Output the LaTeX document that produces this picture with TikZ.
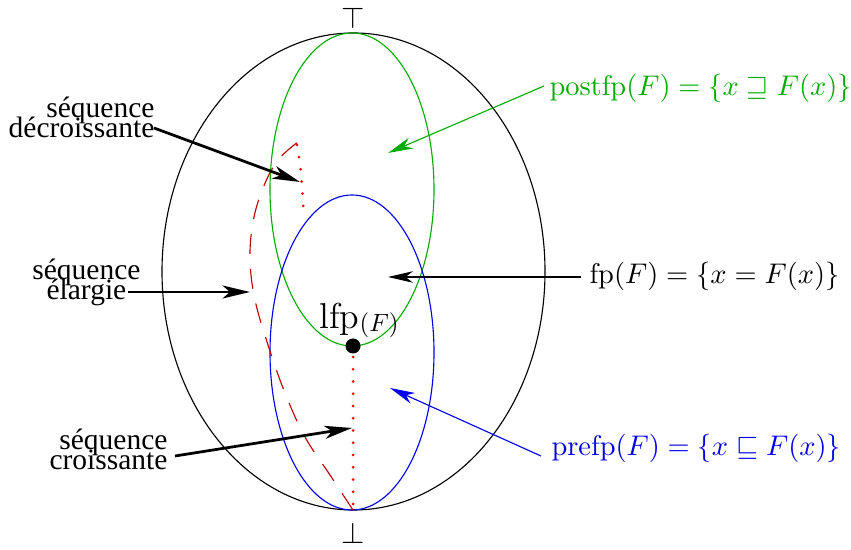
\documentclass[tikz,border=0pt]{standalone}
\usepackage{graphicx}
\usepackage{amssymb}
\usepackage{fontspec}
\newfontfamily\lab{Liberation Serif}
\newcommand\seqfont{\lab\fontsize{11.8}{8}\selectfont\lineskiplimit=-20pt\relax}
\newcommand\mlab[1]{\scalebox{1.038}{$#1$}}
\usetikzlibrary{arrows.meta}
\definecolor{fgreen}{RGB}{0,172,0}
\definecolor{dred}{RGB}{190,0,0}
\definecolor{fblue}{RGB}{0,0,235}
\begin{document}
\begin{tikzpicture}[x=0.4pt,y=-0.4pt,
  thinline/.style={line width=0.45pt},
  thickarrow/.style={line width=1.1pt,-{Stealth[length=11pt,width=5.2pt,inset=3pt]}},
  thinarrow/.style={line width=0.45pt,-{Stealth[length=10pt,width=4.6pt,inset=3pt]}},
  seqlabel/.style={font=\seqfont, inner sep=0pt, anchor=east},
  mathlabel/.style={font=\fontsize{10.95}{13}\selectfont, inner sep=0pt, anchor=base west},
  dotline/.style={red, line width=1.2pt, line cap=round, dash pattern=on 0pt off 4.9pt},
  dashline/.style={dred, line width=0.45pt, dash pattern=on 8pt off 6pt},
  ]
\useasboundingbox (0,0) rectangle (851,550);
% ellipses
\draw[thinline] (353.5,271.5) ellipse [x radius=191.5, y radius=238.5];
\draw[thinline, fgreen] (352,189.5) ellipse [x radius=82, y radius=156.5];
\draw[thinline, fblue] (352,352.5) ellipse [x radius=82, y radius=157.5];
% top and bottom
\node[font=\fontsize{11.5}{13}\selectfont, inner sep=0pt] (top) at (353,18) {$\top$};
\node[font=\fontsize{11.5}{13}\selectfont, inner sep=0pt] (bot) at (353,533.5) {$\bot$};
% sequences
\draw[dashline] plot[smooth, tension=0.6] coordinates {(353,510) (330,475) (305,437) (285,393) (268,345) (255,300) (250,260) (253,222) (263,188) (278,160) (298,142)};
\draw[dotline] (353,357) -- (353,510);
\draw[dotline] (297,145) .. controls (301,170) .. (304,216);
% lfp
\fill (353,346) circle [radius=7.5];
\node[font=\fontsize{14.4}{16}\selectfont, inner sep=0pt, anchor=base] (lfp) at (359,329) {$\mathrm{lfp}{\scriptstyle\raisebox{-1.2pt}{$\scriptstyle(F)$}}$};
% right labels
\node[mathlabel, fgreen] (post) at (549,96) {\mlab{\mathrm{postfp}(F)=\{x\sqsupseteq F(x)\}}};
\node[mathlabel] (fp) at (589,284) {\mlab{\mathrm{fp}(F)=\{x=F(x)\}}};
\node[mathlabel, fblue] (pre) at (551,456) {\mlab{\mathrm{prefp}(F)=\{x\sqsubseteq F(x)\}}};
\coordinate (postS) at (544,86);
\coordinate (postT) at (388,153);
\coordinate (fpS) at (581,277);
\coordinate (fpT) at (388,277);
\coordinate (preS) at (541,456);
\coordinate (preT) at (390,388);
\draw[thinarrow, fgreen] (postS) -- (postT);
\draw[thinarrow] (fpS) -- (fpT);
\draw[thinarrow, fblue] (preS) -- (preT);
% left labels
\node[seqlabel, align=right] (dec) at (155,117) {séquence\\décroissante};
\node[seqlabel, align=center] (ela) at (141,282) {séquence\\élargie};
\node[seqlabel, align=right] (cro) at (168,449) {séquence\\croissante};
\coordinate (decS) at (154,128);
\coordinate (decT) at (300,182);
\coordinate (elaS) at (128,292);
\coordinate (elaT) at (250,292);
\coordinate (croS) at (175,456);
\coordinate (croT) at (352,428);
\draw[thickarrow] (decS) -- (decT);
\draw[thickarrow] (elaS) -- (elaT);
\draw[thickarrow] (croS) -- (croT);
\end{tikzpicture}
\end{document}
